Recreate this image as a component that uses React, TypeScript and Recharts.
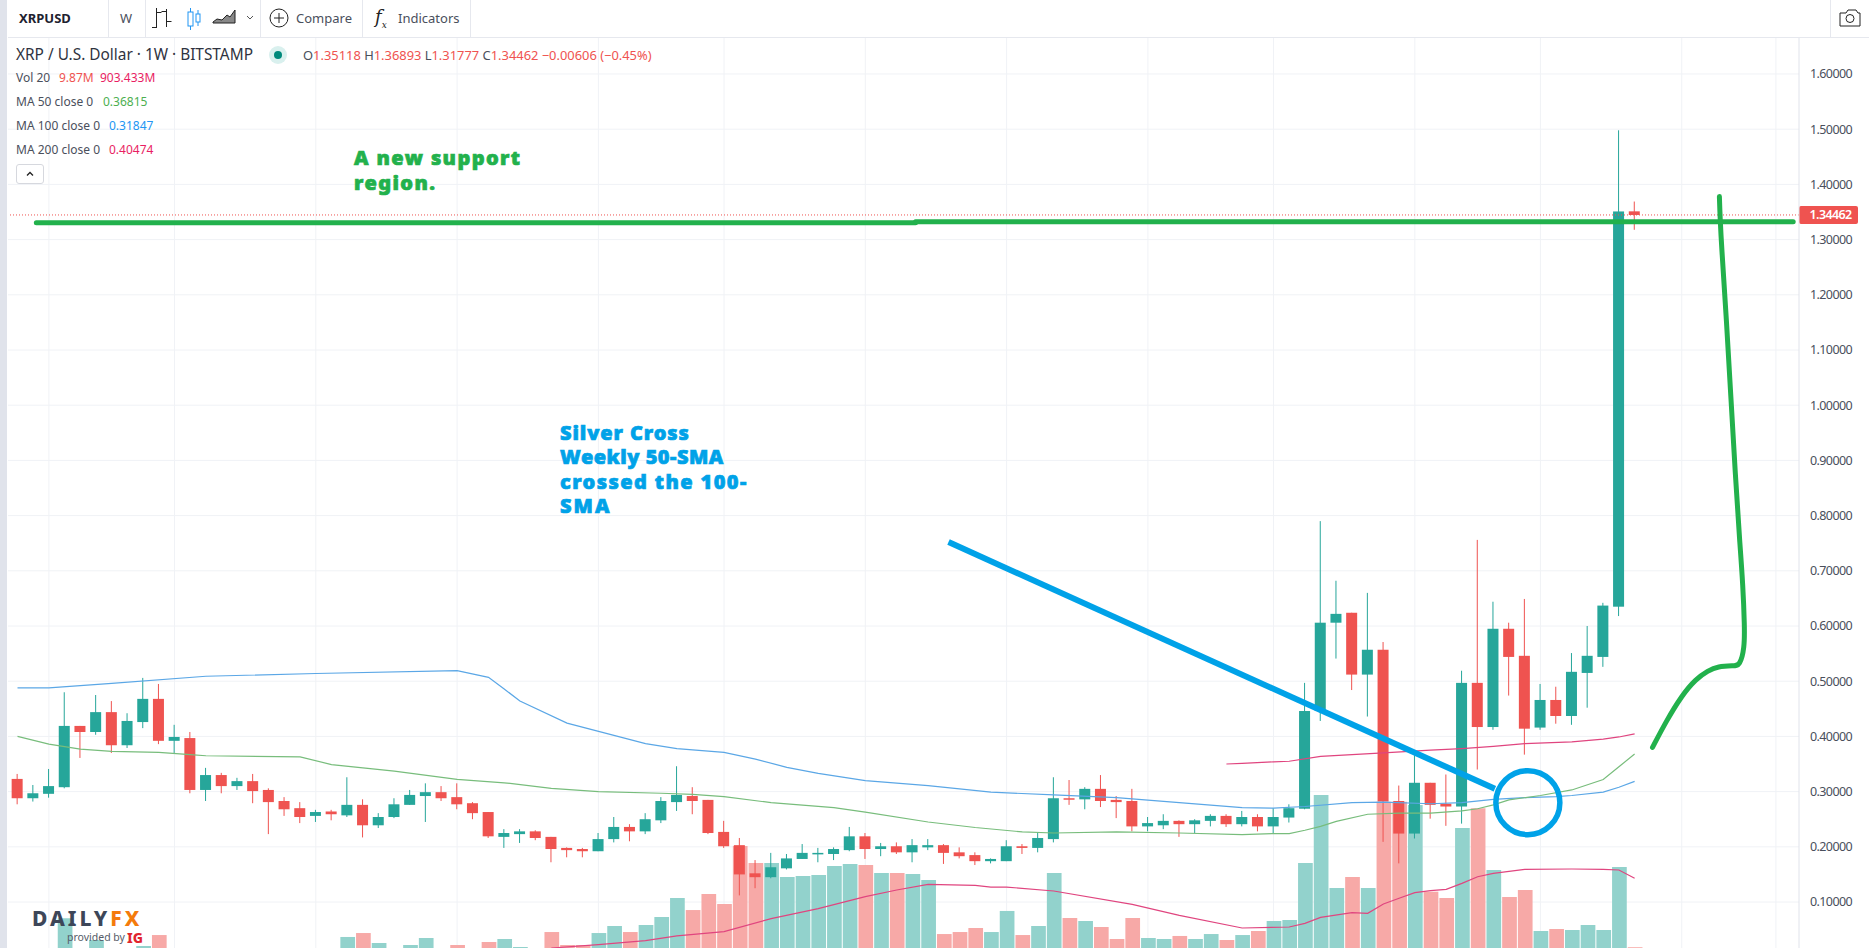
import React from 'react';
import { ComposedChart, Bar, Line, XAxis, YAxis, CartesianGrid, Cell, ReferenceLine, ReferenceDot } from 'recharts';

const opens = [.323,.288,.296,.308,.419,.408,.444,.384,.426,.468,.392,.397,.303,.330,.310,.319,.303,.283,.270,.256,.264,.257,.276,.239,.254,.276,.292,.299,.290,.279,.263,.218,.223,.228,.218,.198,.196,.192,.214,.236,.228,.248,.281,.292,.285,.227,.203,.152,.145,.161,.178,.188,.187,.194,.219,.196,.201,.190,.199,.203,.190,.185,.174,.174,.201,.198,.214,.288,.286,.305,.285,.283,.237,.239,.247,.241,.247,.256,.241,.254,.237,.253,.269,.446,.606,.624,.512,.557,.283,.224,.316,.278,.273,.497,.417,.595,.546,.416,.466,.437,.515,.544,.635,1.35118];
const closes = [.288,.297,.310,.419,.408,.444,.384,.428,.468,.392,.399,.303,.330,.310,.319,.301,.281,.268,.254,.263,.259,.276,.239,.254,.277,.294,.299,.288,.277,.261,.219,.225,.228,.216,.196,.194,.192,.214,.236,.228,.250,.283,.294,.283,.225,.201,.150,.145,.163,.179,.189,.189,.196,.219,.196,.201,.190,.203,.203,.189,.183,.174,.178,.201,.198,.216,.288,.286,.305,.283,.281,.237,.243,.247,.241,.248,.256,.241,.254,.237,.254,.270,.446,.606,.622,.512,.557,.282,.224,.316,.276,.273,.497,.417,.595,.544,.414,.466,.437,.517,.546,.637,1.351,1.34462];
const highs = [.332,.312,.341,.480,.419,.475,.464,.442,.506,.495,.421,.408,.343,.334,.325,.332,.306,.290,.281,.267,.267,.326,.286,.261,.288,.303,.315,.310,.315,.281,.263,.232,.232,.230,.218,.199,.198,.225,.254,.241,.261,.290,.346,.308,.285,.247,.216,.176,.189,.187,.205,.198,.199,.236,.225,.207,.208,.214,.214,.205,.199,.190,.179,.212,.205,.225,.326,.321,.308,.330,.292,.305,.254,.259,.248,.250,.259,.259,.265,.259,.270,.277,.497,.790,.682,.624,.660,.571,.311,.366,.316,.331,.519,.756,.644,.606,.649,.495,.490,.551,.600,.642,1.498,1.36893];
const lows = [.277,.282,.289,.306,.361,.403,.370,.379,.415,.386,.370,.297,.283,.297,.303,.279,.223,.256,.243,.245,.248,.254,.217,.234,.252,.276,.245,.283,.268,.250,.216,.198,.207,.212,.172,.181,.181,.192,.208,.210,.223,.243,.265,.259,.223,.198,.112,.125,.143,.159,.178,.172,.176,.192,.178,.183,.187,.172,.194,.169,.179,.167,.170,.174,.187,.190,.208,.276,.268,.272,.252,.228,.228,.232,.218,.225,.237,.236,.237,.228,.225,.244,.268,.428,.541,.484,.436,.209,.170,.215,.251,.238,.242,.340,.412,.474,.367,.412,.423,.421,.452,.526,.618,1.31777];
const volumes = [0,0,0,384,0,104,0,0,26,168,0,0,0,0,0,0,0,0,0,0,0,143,194,65,0,39,130,0,39,0,78,117,13,0,207,39,39,194,285,207,298,402,648,492,700,570,1322,1102,1102,920,933,946,1063,1089,1076,972,972,959,881,181,207,259,207,480,168,285,972,389,350,272,117,389,130,117,156,117,181,104,168,220,350,363,1102,1983,778,920,778,1896,1896,1853,730,648,1555,1810,1011,661,752,220,246,233,298,233,1050,10];

const volMA = [[34,0],[37,43],[40,95],[42,156],[45,212],[48,380],[51,510],[54,665],[56,752],[58,825],[61,812],[62,790],[63,790],[66,739],[71,566],[74,423],[78,259],[81,272],[82,320],[83,397],[85,458],[86,449],[87,570],[88,644],[89,717],[90,743],[91,760],[92,838],[93,924],[94,968],[96,1020],[99,1024],[101,1020],[102,1011],[103,903]];
const ma100 = [[0,.488],[2,.488],[6,.496],[12,.509],[19,.514],[28,.519],[30,.507],[31,.486],[32,.464],[35,.424],[40,.387],[42,.378],[45,.371],[47,.359],[49,.344],[51,.333],[54,.320],[58,.311],[62,.299],[66,.294],[70,.289],[74,.280],[78,.271],[80,.270],[82,.273],[85,.280],[87,.281],[90,.278],[92,.280],[94,.286],[96,.289],[98,.291],[99,.293],[101,.299],[102,.308],[103,.31847]];
const ma50 = [[0,.400],[2,.386],[4,.377],[6,.373],[9,.371],[11,.367],[12,.365],[18,.363],[20,.349],[22,.343],[24,.337],[28,.322],[31,.316],[34,.306],[37,.300],[41,.297],[43,.295],[45,.291],[48,.280],[52,.271],[54,.263],[58,.245],[61,.235],[64,.227],[66,.225],[70,.227],[74,.225],[78,.222],[80,.224],[81,.224],[82,.230],[83,.237],[84,.246],[86,.259],[88,.261],[90,.261],[92,.265],[93,.269],[94,.276],[95,.285],[97,.293],[99,.303],[101,.322],[102,.345],[103,.36815]];
const ma200 = [[77,.350],[78,.351],[80,.354],[81,.355],[83,.364],[87,.370],[90,.375],[92,.378],[94,.382],[96,.387],[99,.390],[101,.395],[102,.399],[103,.40474]];

const supportLeft = [[1.2,1.3305],[57.2,1.3305]];
const supportRight = [[57.2,1.3325],[113.1,1.3325]];
const blueTrend = [[59.3,.752],[94.1,.305]];
const greenCurve = [[104.14,.380],[104.98,.426],[106,.474],[106.9,.504],[107.67,.519],[108.3,.527],[109.3,.528],[109.7,.528],[110,.56],[110,.601],[109.9,.673],[109.7,.752],[109.5,.830],[108.76,1.2],[108.55,1.281],[108.44,1.3415],[108.4,1.378]];

const priceTicks = [.1,.2,.3,.4,.5,.6,.7,.8,.9,1,1.1,1.2,1.3,1.4,1.5,1.6];
const timeTicks = [2,10,19,28,37,45,54,63,72,80,89,97,106,112];
const lastPrice = 1.34462;

const UP = '#26a69a', DOWN = '#ef5350';
const volUp = '#92d2cc', volDown = '#f7a9a7';

const toMap = (pairs: number[][]) => new Map(pairs.map(([i, v]) => [i, v]));
const mVol = toMap(volMA), m100 = toMap(ma100), m50 = toMap(ma50), m200 = toMap(ma200);
const rows = opens.map((o, i) => ({
  i, open: o, close: closes[i], high: highs[i], low: lows[i],
  range: [lows[i], highs[i]], vol: volumes[i],
  volMA: mVol.get(i) ?? null, ma100: m100.get(i) ?? null, ma50: m50.get(i) ?? null, ma200: m200.get(i) ?? null,
}));
const pts = (p: number[][]) => p.map(([i, v]) => ({ i, v }));

const Candle = (props: any) => {
  const { x, y, width, height, payload } = props;
  const { open, close, high, low } = payload;
  const k = height / (high - low || 1);
  const top = y + (high - Math.max(open, close)) * k;
  const bot = y + (high - Math.min(open, close)) * k;
  const c = close >= open ? UP : DOWN;
  const cx = x + width / 2;
  return (
    <g>
      <line x1={cx} x2={cx} y1={y} y2={y + height} stroke={c} strokeWidth={1} />
      <rect x={x} y={top} width={width} height={Math.max(bot - top, 1.5)} fill={c} />
    </g>
  );
};

const PriceLabel = (props: any) => {
  const { viewBox } = props;
  const x = viewBox.x + viewBox.width, y = viewBox.y;
  return (
    <g>
      <rect x={x} y={y - 9} width={59} height={18} rx={2} fill={DOWN} />
      <text x={x + 10.500} y={y + 4.500} fill="#fff" fontSize={12.500} fontWeight={600} letterSpacing={-0.6} fontFamily="'Noto Sans', sans-serif">{lastPrice.toFixed(5)}</text>
    </g>
  );
};

const FONT = "'Noto Sans', sans-serif";
const abs = (s: React.CSSProperties): React.CSSProperties => ({ position: 'absolute', whiteSpace: 'nowrap', ...s });
const Txt = ({ x, y, color = '#4a4f5c', size = 13, weight = 400, children }: any) => (
  <div style={abs({ left: x, top: y, transform: 'translateY(-50%)', color, fontSize: size, fontWeight: weight, fontFamily: FONT, lineHeight: 1 })}>{children}</div>
);
const Div = ({ x }: { x: number }) => <div style={abs({ left: x, top: 0, width: 1, height: 37, background: '#e6e8ee' })} />;
const Ln = ({ s, children }: any) => <span style={{ letterSpacing: s }}>{children}</span>;

export default function App() {
  return (
    <div style={{ position: 'fixed', left: 0, top: 0, width: 1869, height: 948, overflow: 'hidden', background: '#fff' }}>
      <div style={abs({ left: 8, top: 38 })}>
        <ComposedChart width={1861} height={910} data={rows} margin={{ top: 0, right: 0, bottom: 0, left: 0 }}>
          <XAxis xAxisId="p" dataKey="i" type="number" domain={[-0.605, 113.47]} allowDataOverflow hide ticks={timeTicks} height={0} />
          <XAxis xAxisId="v" dataKey="i" type="number" domain={[-0.605, 113.47]} allowDataOverflow hide height={0} />
          <XAxis xAxisId="c" dataKey="i" type="number" domain={[-0.605, 113.47]} allowDataOverflow hide height={0} />
          <YAxis yAxisId="p" orientation="right" width={70} domain={[0.0167, 1.6652]} allowDataOverflow ticks={priceTicks}
            interval={0} tickFormatter={(v: number) => v.toFixed(5)} tickSize={0} tickMargin={11}
            axisLine={{ stroke: '#e0e3eb' }} tickLine={false}
            tick={{ fill: '#4a4f5c', fontSize: 12.5, fontFamily: FONT, textAnchor: 'start', letterSpacing: -0.6 }} />
          <YAxis yAxisId="v" hide domain={[0, 11794]} allowDataOverflow />
          <CartesianGrid xAxisId="p" yAxisId="p" stroke="#f0f2f6" horizontalValues={priceTicks} verticalValues={timeTicks} />
          <Bar xAxisId="v" yAxisId="v" dataKey="vol" barSize={14.7} isAnimationActive={false}>
            {rows.map((r) => <Cell key={r.i} fill={r.close >= r.open ? volUp : volDown} />)}
          </Bar>
          <Line xAxisId="v" yAxisId="v" dataKey="volMA" connectNulls dot={false} stroke="#e0457f" strokeWidth={1.2} isAnimationActive={false} />
          <ReferenceLine xAxisId="p" yAxisId="p" y={lastPrice} stroke={DOWN} strokeDasharray="1 2" label={<PriceLabel />} />
          <Bar xAxisId="c" yAxisId="p" dataKey="range" barSize={11} shape={<Candle />} isAnimationActive={false} />
          <Line xAxisId="v" yAxisId="p" dataKey="ma100" connectNulls dot={false} stroke="#5ba7e6" strokeWidth={1.2} isAnimationActive={false} />
          <Line xAxisId="v" yAxisId="p" dataKey="ma50" connectNulls dot={false} stroke="#78bd7c" strokeWidth={1.2} isAnimationActive={false} />
          <Line xAxisId="v" yAxisId="p" dataKey="ma200" connectNulls dot={false} stroke="#e0457f" strokeWidth={1.2} isAnimationActive={false} />
          <Line xAxisId="p" yAxisId="p" data={pts(supportLeft)} dataKey="v" dot={false} stroke="#22b14c" strokeWidth={5} strokeLinecap="round" isAnimationActive={false} />
          <Line xAxisId="p" yAxisId="p" data={pts(supportRight)} dataKey="v" dot={false} stroke="#22b14c" strokeWidth={5} strokeLinecap="round" isAnimationActive={false} />
          <Line xAxisId="p" yAxisId="p" type="basis" data={pts(greenCurve)} dataKey="v" dot={false} stroke="#22b14c" strokeWidth={5} strokeLinecap="round" strokeLinejoin="round" isAnimationActive={false} />
          <Line xAxisId="p" yAxisId="p" data={pts(blueTrend)} dataKey="v" dot={false} stroke="#00a2e8" strokeWidth={6} isAnimationActive={false} />
          <ReferenceDot xAxisId="p" yAxisId="p" x={96.2} y={.28} r={32} fill="none" stroke="#00a2e8" strokeWidth={5.5} ifOverflow="visible" />
        </ComposedChart>
      </div>

      {/* left strip & toolbar */}
      <div style={abs({ left: 0, top: 0, width: 7, height: 948, background: '#e0e3eb' })} />
      <div style={abs({ left: 8, top: 0, width: 1861, height: 37, background: '#fff', borderBottom: '1px solid #e6e8ee' })} />
      <Txt x={19} y={18} color="#1e2230" weight={700}>XRPUSD</Txt>
      <Div x={108} />
      <Txt x={120} y={18}>W</Txt>
      <Div x={145} />
      <svg style={abs({ left: 150, top: 0 })} width={110} height={37}>
        <g stroke="#222" fill="none" strokeWidth={1}>
          <path d="M6.5 8v20M2 27.5h4.500M6.500 12.500h5M16.500 9v18M11.500 11.500h5M16.500 21.500h5" />
          <path d="M63 22l4-3 5 1 5-5 3 2 5-7v13H63z" fill="#888" />
        </g>
        <g stroke="#2196f3" fill="none">
          <rect x={38} y={12} width={5} height={14} />
          <path d="M40.500 8v4M40.500 26v4" />
          <rect x={46} y={14} width={4} height={8} />
          <path d="M48 10v4M48 22v4" />
        </g>
        <path d="M97 16l3 3 3-3" stroke="#555" fill="none" />
      </svg>
      <Div x={260} />
      <svg style={abs({ left: 268, top: 7 })} width={22} height={22}>
        <circle cx={11} cy={11} r={9} stroke="#222" fill="none" />
        <path d="M11 6v10M6 11h10" stroke="#222" />
      </svg>
      <Txt x={296} y={18}>Compare</Txt>
      <Div x={362} />
      <div style={abs({ left: 375, top: 6, fontFamily: "'DejaVu Serif', serif", fontStyle: 'italic', fontSize: 18, color: '#222' })}>f<sub style={{ fontSize: 9 }}>x</sub></div>
      <Txt x={398} y={18}>Indicators</Txt>
      <Div x={470} />
      <Div x={1830} />
      <svg style={abs({ left: 1838, top: 7 })} width={24} height={22}>
        <path d="M2 6h6l2-3h8l2 3h2v13H2z" fill="none" stroke="#222" />
        <circle cx={12} cy={11.500} r={4} fill="none" stroke="#222" />
      </svg>

      {/* legend */}
      <Txt x={16} y={55} color="#2f3340" size={15.4}>XRP / U.S. Dollar · 1W · BITSTAMP</Txt>
      <div style={abs({ left: 269, top: 46, width: 18, height: 18, borderRadius: 9, background: '#d9f0ee' })} />
      <div style={abs({ left: 274, top: 51, width: 8, height: 8, borderRadius: 4, background: '#00897b' })} />
      <Txt x={303} y={55} color={DOWN} size={12.9}>
        <span style={{ color: '#4a4f5c' }}>O</span>1.35118 <span style={{ color: '#4a4f5c' }}>H</span>1.36893 <span style={{ color: '#4a4f5c' }}>L</span>1.31777 <span style={{ color: '#4a4f5c' }}>C</span>1.34462 −0.00606 (−0.45%)
      </Txt>
      <Txt x={16} y={78} size={12}>Vol 20</Txt>
      <Txt x={59} y={78} size={12} color={DOWN}>9.87M</Txt>
      <Txt x={100} y={78} size={12} color="#e91e63">903.433M</Txt>
      <Txt x={16} y={102} size={12}>MA 50 close 0</Txt>
      <Txt x={103} y={102} size={12} color="#4caf50">0.36815</Txt>
      <Txt x={16} y={126} size={12}>MA 100 close 0</Txt>
      <Txt x={109} y={126} size={12} color="#2196f3">0.31847</Txt>
      <Txt x={16} y={150} size={12}>MA 200 close 0</Txt>
      <Txt x={109} y={150} size={12} color="#e91e63">0.40474</Txt>
      <div style={abs({ left: 16, top: 164, width: 28, height: 20, border: '1px solid #d6d8de', borderRadius: 3, boxSizing: 'border-box', background: '#fff' })}>
        <svg width={26} height={18}><path d="M10 10.500l3-3 3 3" stroke="#222" strokeWidth={1.300} fill="none" /></svg>
      </div>

      {/* annotations */}
      <div style={abs({ left: 354, top: 145, color: '#22b14c', fontFamily: FONT, fontWeight: 900, fontSize: 20, lineHeight: '25px', letterSpacing: 1.4, WebkitTextStroke: '0.7px #22b14c' })}>A new support<br />region.</div>
      <div style={abs({ left: 560, top: 421, color: '#00a2e8', fontFamily: FONT, fontWeight: 900, fontSize: 20, lineHeight: '24.3px', WebkitTextStroke: '0.7px #00a2e8' })}>
        <Ln s={0.9}>Silver Cross</Ln><br /><Ln s={0.5}>Weekly 50-SMA</Ln><br /><Ln s={1.4}>crossed the 100-</Ln><br /><Ln s={2}>SMA</Ln>
      </div>

      {/* logo */}
      <div style={abs({ left: 32, top: 908, fontFamily: FONT, fontWeight: 800, fontSize: 21, letterSpacing: 3, lineHeight: '20px', color: '#3d4658' })}>
        DAILY<span style={{ color: '#f47b0c' }}>FX</span>
      </div>
      <Txt x={67} y={937} size={10.5} color="#555b68">provided by</Txt>
      <Txt x={127} y={938} size={14} weight={800} color="#e0242e">IG</Txt>
    </div>
  );
}
